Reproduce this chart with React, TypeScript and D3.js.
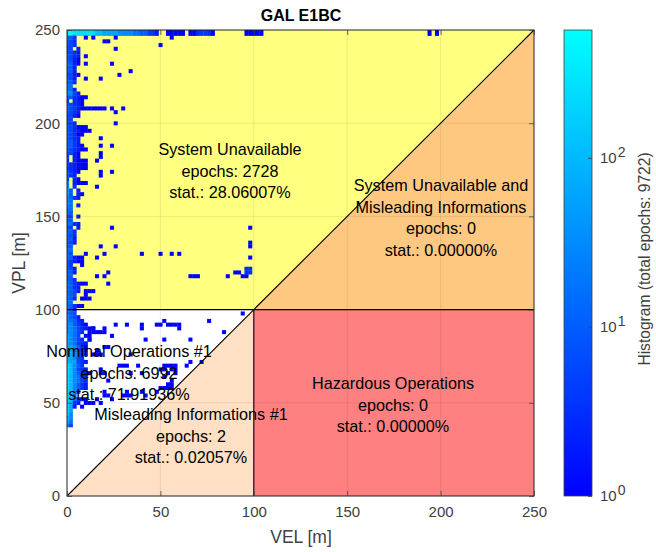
import { useEffect, useRef } from 'react'
import * as d3 from 'd3'

const width = 656
const height = 552
const plot = { left: 67, right: 534, top: 30, bottom: 496 }
const bar = { left: 564, right: 592 }

const xTicks = [0, 50, 100, 150, 200, 250]
const yTicks = [0, 50, 100, 150, 200, 250]
const cbTicks = [1, 10, 100]
const cbMax = 570
const binStep = 2

// count behind each character used in leftStrip
const levelChars = '123456789abc'
const levelCounts = [1, 2, 3, 4, 6, 10, 17, 32, 60, 110, 250, 450]

// dense part next to VEL = 0, one string per VPL bin from 250 downwards, one char per VEL bin
const leftStrip = [
  'ccbbbbbbaa999988887766442', 'ccbbbbbbaa999988887766442', '664', '653', '653', '55.2', '5532', '6532',
  '6521', '7621', '662', '662', '5521', '652', '663', '77',
  '772', '8852', '663211', '5.321', '65321', '75421111111', '6532', '5521',
  '55', '553', '653111', '6532111', '65311', '6532', '6642', '66421',
  '653211', '5521', '5.21', '4.2111', '532111', '432111', '6421', '642',
  '5.31', '8.2111', '8.3', '96.2', '96.21', '8632', '87', '87.2',
  '77', '76', '55.2', '66', '7732', '55.2', '663', '653',
  '662', '652', '66', '77', '75', '76211', '64211', '64..1',
  '652', '662', '66', '663', '764211', '7632', '7652.111', '765..1',
  '763.111', '77', '76311', '763', '765', '8652', '87632', '886421',
  '88753211', '88753.11', '9875.11', '98753.2', '987432', '998641', '997532', 'a98642',
  'a9854', 'a99542', 'ba864', 'ba8542', 'ba86421', 'ba8743', 'ba8753', 'ba8642',
  'ba8642', 'ba85', 'ba7', 'ba7421', 'ba42.11', 'b92.1', 'b9', 'b8',
  'a8', 'a7', '85',
]

// isolated single-epoch bins: [VPL, VEL, VEL, ...]
const isolatedBins: number[][] = [
  [250, 54, 56, 58, 60, 62, 66, 68, 78, 96, 98, 100, 102, 104, 194, 198],
  [248, 54, 56, 58, 60, 62, 66, 68, 78, 96, 98, 100, 102, 104, 194, 198],
  [246, 10, 14, 26, 56], [244, 20, 22], [242, 50], [240, 26], [236, 10], [232, 10, 24],
  [228, 34], [226, 28], [224, 10, 18], [208, 24, 30], [206, 26], [200, 26], [192, 18],
  [188, 18, 24], [184, 18], [182, 18], [180, 16], [174, 18, 24], [172, 18], [166, 16],
  [144, 24, 98], [136, 98], [134, 18, 26, 98], [130, 10, 20, 40, 50, 56, 60], [128, 16, 98],
  [120, 22, 90, 92], [118, 16, 20, 66, 68, 70, 86, 94, 96], [114, 22],
  [98, 94], [94, 52, 76], [92, 26, 32, 40, 48, 50, 54, 56, 58, 60], [90, 14, 20, 40, 60],
  [88, 16, 18, 20, 84], [86, 24], [84, 12, 42, 52, 66], [80, 20, 22], [78, 16], [76, 14, 16, 18, 34],
  [72, 66, 72], [70, 28, 30, 32, 38, 52, 54, 56, 58, 64], [68, 18, 50, 52, 56, 58],
  [66, 18, 20, 34, 40, 54, 58], [64, 52], [62, 22, 56], [60, 54, 56],
  [58, 50, 52, 54, 56], [56, 20, 32, 40, 48], [54, 20, 22, 30, 32, 34, 42], [52, 16, 24], [50, 14, 18],
]

// the few far bins with more than one epoch: [VEL, VPL, count]
const warmBins: number[][] = [
  [70, 250, 3], [72, 250, 4], [74, 250, 4], [76, 250, 3],
  [70, 248, 3], [72, 248, 4], [74, 248, 4], [76, 248, 3],
  [96, 122, 3], [98, 122, 3], [98, 120, 3], [96, 120, 3],
]

const regions = [
  { fill: '#ffff80', pts: [[0, 100], [100, 100], [250, 250], [0, 250]] },
  { fill: '#ffc880', pts: [[100, 100], [250, 100], [250, 250]] },
  { fill: '#ff8080', pts: [[100, 0], [250, 0], [250, 100], [100, 100]] },
  { fill: '#ffe0c4', pts: [[0, 0], [100, 0], [100, 100]] },
]

const regionLabels = [
  { x: 230, y: 150, lines: ['System Unavailable', 'epochs: 2728', 'stat.: 28.06007%'] },
  { x: 441, y: 186, lines: ['System Unavailable and', 'Misleading Informations', 'epochs: 0', 'stat.: 0.00000%'] },
  { x: 393, y: 384, lines: ['Hazardous Operations', 'epochs: 0', 'stat.: 0.00000%'] },
  { x: 129, y: 352, lines: ['Nominal Operations #1', 'epochs: 6992', 'stat.: 71.91936%'] },
  { x: 191, y: 415, lines: ['Misleading Informations #1', 'epochs: 2', 'stat.: 0.02057%'] },
]

const font = 'Liberation Sans, Arial, sans-serif'
const inkGray = '#404040'

export default function App() {
  const xAxisRef = useRef<SVGGElement>(null)
  const yAxisRef = useRef<SVGGElement>(null)
  const topAxisRef = useRef<SVGGElement>(null)
  const rightAxisRef = useRef<SVGGElement>(null)
  const cbAxisRef = useRef<SVGGElement>(null)

  const x = d3.scaleLinear().domain([0, 250]).range([plot.left, plot.right])
  const y = d3.scaleLinear().domain([0, 250]).range([plot.bottom, plot.top])
  const cb = d3.scaleLog().domain([1, cbMax]).range([plot.bottom, plot.top])
  const color = d3.scaleLog<string>().domain([1, cbMax]).range(['#0000ff', '#00ffff'])

  const cells: number[][] = []
  leftStrip.forEach((row, i) => {
    row.split('').forEach((ch, j) => {
      const k = levelChars.indexOf(ch)
      if (k >= 0) cells.push([j * binStep, 250 - i * binStep, levelCounts[k]])
    })
  })
  isolatedBins.forEach(([vpl, ...vels]) => vels.forEach((v) => cells.push([v, vpl, 1])))
  warmBins.forEach((b) => cells.push(b))

  useEffect(() => {
    const style = (g: d3.Selection<SVGGElement, unknown, null, undefined>) => {
      g.select('.domain').remove()
      g.selectAll('line').attr('stroke', inkGray).attr('stroke-width', 0.8)
      g.selectAll('text').attr('fill', inkGray).attr('font-size', 15).attr('font-family', font)
    }
    d3.select(xAxisRef.current!)
      .call(d3.axisBottom(x).tickValues(xTicks).tickSize(-5).tickPadding(10))
      .call(style)
    d3.select(yAxisRef.current!)
      .call(d3.axisLeft(y).tickValues(yTicks).tickSize(-5).tickPadding(7))
      .call(style)
    d3.select(topAxisRef.current!)
      .call(d3.axisTop(x).tickValues(xTicks).tickSize(-5).tickFormat(() => ''))
      .call(style)
    d3.select(rightAxisRef.current!)
      .call(d3.axisRight(y).tickValues(yTicks).tickSize(-5).tickFormat(() => ''))
      .call(style)
    const cbG = d3.select(cbAxisRef.current!)
    cbG.call(d3.axisRight(cb).tickValues(cbTicks).tickSize(-4).tickPadding(8).tickFormat(() => '10'))
      .call(style)
    cbG.selectAll<SVGTextElement, number>('text')
      .append('tspan')
      .attr('dx', 1)
      .attr('dy', -6)
      .attr('font-size', 14)
      .text((d) => String(Math.round(Math.log10(d))))
  }, [])

  return (
    <svg width={width} height={height} style={{ position: 'absolute', left: 0, top: 0, display: 'block' }}>
      <defs>
        <clipPath id="plot-clip">
          <rect x={plot.left} y={plot.top} width={plot.right - plot.left} height={plot.bottom - plot.top} />
        </clipPath>
        <linearGradient id="cb-grad" x1="0" y1="1" x2="0" y2="0">
          <stop offset="0" stopColor="#0000ff" />
          <stop offset="1" stopColor="#00ffff" />
        </linearGradient>
      </defs>
      <rect width={width} height={height} fill="#fff" />

      <text x={301} y={21} textAnchor="middle" fontFamily={font} fontSize={16} fontWeight="bold" fill="#000">GAL E1BC</text>

      {regions.map((r, i) => (
        <polygon key={i} fill={r.fill} points={r.pts.map(([a, b]) => `${x(a)},${y(b)}`).join(' ')} />
      ))}

      <g clipPath="url(#plot-clip)">
        {cells.map(([vel, vpl, n], i) => (
          <rect
            key={i}
            x={x(vel - binStep / 2)}
            y={y(vpl + binStep / 2)}
            width={x(binStep) - x(0) + 0.3}
            height={y(0) - y(binStep) + 0.3}
            fill={color(n)}
          />
        ))}
      </g>

      <g stroke="#000" strokeOpacity={0.1} strokeWidth={0.8}>
        {xTicks.slice(1, -1).map((t) => <line key={t} x1={x(t)} x2={x(t)} y1={plot.top} y2={plot.bottom} />)}
        {yTicks.slice(1, -1).map((t) => <line key={t} x1={plot.left} x2={plot.right} y1={y(t)} y2={y(t)} />)}
      </g>

      <g stroke="#000" strokeWidth={1.1} fill="none">
        <line x1={x(0)} y1={y(0)} x2={x(250)} y2={y(250)} />
        <line x1={x(0)} y1={y(100)} x2={x(250)} y2={y(100)} />
        <line x1={x(100)} y1={y(0)} x2={x(100)} y2={y(100)} />
      </g>

      {regionLabels.map((l, i) => (
        <text key={i} textAnchor="middle" fontFamily={font} fontSize={16.2} fill="#000">
          {l.lines.map((s, k) => (
            <tspan key={k} x={l.x} y={l.y + 5 + k * 21.6}>{s}</tspan>
          ))}
        </text>
      ))}

      <rect x={plot.left} y={plot.top} width={plot.right - plot.left} height={plot.bottom - plot.top} fill="none" stroke="#222" strokeWidth={1} />
      <g ref={xAxisRef} transform={`translate(0,${plot.bottom})`} />
      <g ref={yAxisRef} transform={`translate(${plot.left},0)`} />
      <g ref={topAxisRef} transform={`translate(0,${plot.top})`} />
      <g ref={rightAxisRef} transform={`translate(${plot.right},0)`} />

      <text x={301} y={543} textAnchor="middle" fontFamily={font} fontSize={17.5} fill={inkGray}>VEL [m]</text>
      <text transform={`translate(25,263) rotate(-90)`} textAnchor="middle" fontFamily={font} fontSize={17.5} fill={inkGray}>VPL [m]</text>

      <rect x={bar.left} y={plot.top} width={bar.right - bar.left} height={plot.bottom - plot.top} fill="url(#cb-grad)" stroke={inkGray} strokeWidth={0.8} />
      <g ref={cbAxisRef} transform={`translate(${bar.right},0)`} />
      <text transform={`translate(650,259) rotate(-90)`} textAnchor="middle" fontFamily={font} fontSize={15.6} fill={inkGray}>Histogram (total epochs: 9722)</text>
    </svg>
  )
}
